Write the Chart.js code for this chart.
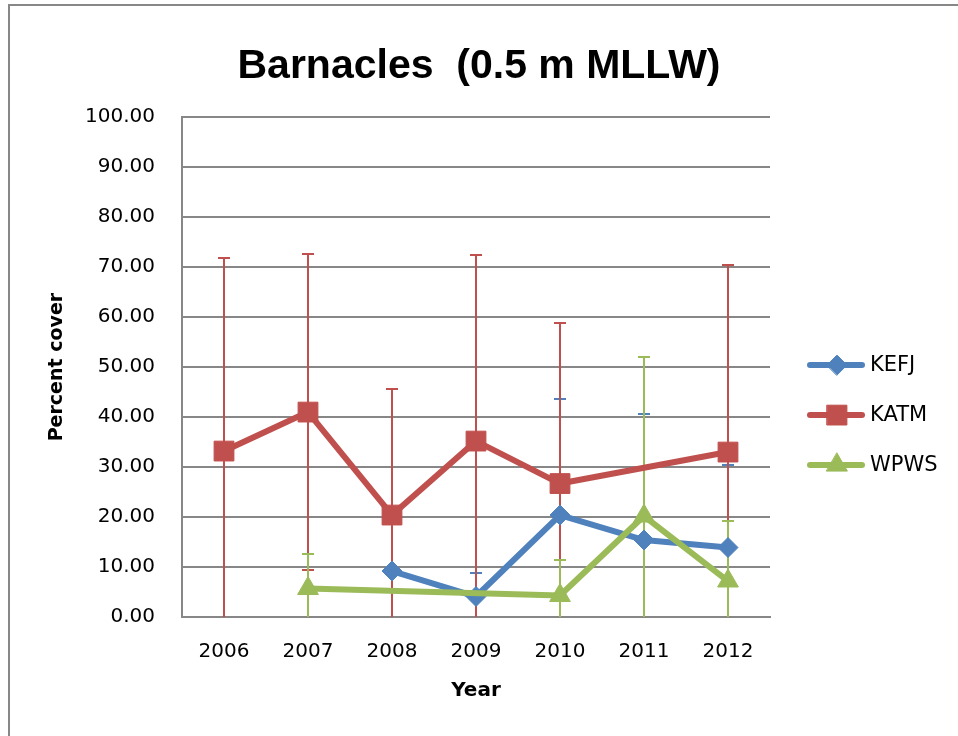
<!DOCTYPE html>
<html>
<head>
<meta charset="utf-8">
<script src="https://cdn.jsdelivr.net/npm/chart.js@4.4.0/dist/chart.umd.min.js"></script>
<style>
  html, body { margin: 0; padding: 0; background: #fff; overflow: hidden; }
  #wrap { position: relative; width: 958px; height: 736px; }
  #frame { position: absolute; left: 8px; top: 4px; width: 1200px; height: 1200px;
           border-left: 2px solid #878787; border-top: 2px solid #878787; }
  #grafico { position: absolute; left: 0; top: 0; }
</style>
</head>
<body>
<div id="wrap">
  <div id="frame"></div>
  <canvas id="grafico" width="958" height="736"></canvas>
</div>
<script>
//anos (eixo x)
var years = ['2006', '2007', '2008', '2009', '2010', '2011', '2012'];

//cobertura media por local
var kefj = [null, null, 9.2, 4.1, 20.4, 15.4, 13.9];
var katm = [33.2, 41.0, 20.4, 35.2, 26.7, null, 33.0];
var wpws = [null, 5.7, null, null, 4.3, 20.2, 7.2];

//barras de erro (+/-)
var kefjErr = [null, null, 0, 4.8, 23.3, 25.3, 16.5];
var katmErr = [38.6, 31.6, 25.3, 37.3, 32.2, null, 37.4];
var wpwsErr = [null, 6.9, null, null, 7.1, 31.9, 12.0];

//rotulos do eixo y
var yTicks = [0, 10, 20, 30, 40, 50, 60, 70, 80, 90, 100];

var azul = '#4F81BD';
var vermelho = '#C0504D';
var verde = '#9BBB59';
var cinza = '#878787';

Chart.defaults.font.family = 'DejaVu Sans';
Chart.defaults.color = '#000';

//desenha as barras de erro atras das linhas
var barrasErro = {
    id: 'barrasErro',
    beforeDatasetsDraw: function (chart) {
        var ctx = chart.ctx;
        var area = chart.chartArea;
        var y = chart.scales.y;
        ctx.save();
        ctx.beginPath();
        ctx.rect(area.left, area.top, area.right - area.left, area.bottom - area.top);
        ctx.clip();
        chart.data.datasets.forEach(function (ds, i) {
            var meta = chart.getDatasetMeta(i);
            ctx.strokeStyle = ds.borderColor;
            ctx.lineWidth = 2;
            ds.erros.forEach(function (e, j) {
                var v = ds.data[j];
                if (v === null || !e) return;
                var x = Math.round(meta.data[j].x);
                var top = Math.round(y.getPixelForValue(v + e));
                var bot = Math.round(y.getPixelForValue(v - e));
                ctx.beginPath();
                ctx.moveTo(x, top);
                ctx.lineTo(x, bot);
                ctx.moveTo(x - 6, top);
                ctx.lineTo(x + 6, top);
                ctx.moveTo(x - 6, bot);
                ctx.lineTo(x + 6, bot);
                ctx.stroke();
            });
        });
        ctx.restore();
    }
};

//legenda com linha e marcador
var legenda = {
    id: 'legenda',
    afterDraw: function (chart) {
        var ctx = chart.ctx;
        var area = chart.chartArea;
        var x0 = area.right + 40;
        var yMid = (area.top + area.bottom) / 2 + 48;
        chart.data.datasets.forEach(function (ds, i) {
            var yy = yMid + (i - 1) * 50;
            ctx.save();
            ctx.strokeStyle = ds.borderColor;
            ctx.lineWidth = 6;
            ctx.lineCap = 'round';
            ctx.beginPath();
            ctx.moveTo(x0, yy);
            ctx.lineTo(x0 + 52, yy);
            ctx.stroke();
            ctx.fillStyle = ds.pointBackgroundColor;
            ctx.strokeStyle = ds.borderColor;
            ctx.lineWidth = 1;
            Chart.helpers.drawPoint(ctx, {
                pointStyle: ds.pointStyle,
                radius: ds.pointRadius,
                rotation: 0,
                borderWidth: 1
            }, x0 + 27, yy);
            ctx.fillStyle = '#000';
            ctx.font = '21px "DejaVu Sans"';
            ctx.textAlign = 'left';
            ctx.textBaseline = 'middle';
            ctx.fillText(ds.label, x0 + 60, yy);
            ctx.restore();
        });
    }
};

function serie(label, dados, erros, cor, estilo, raio, ordem) {
    return {
        label: label,
        data: dados,
        erros: erros,
        borderColor: cor,
        backgroundColor: cor,
        pointBackgroundColor: cor,
        pointBorderColor: cor,
        pointBorderWidth: 1,
        pointStyle: estilo,
        pointRadius: raio,
        pointHoverRadius: raio,
        borderWidth: 6,
        borderCapStyle: 'round',
        borderJoinStyle: 'round',
        tension: 0,
        spanGaps: true,
        order: ordem
    };
}

var data = {
    labels: years,
    datasets: [
        serie('KEFJ', kefj, kefjErr, azul, 'rectRot', 10, 2),
        serie('KATM', katm, katmErr, vermelho, 'rect', 14, 1),
        serie('WPWS', wpws, wpwsErr, verde, 'triangle', 12, 0)
    ]
};

var options = {
    responsive: false,
    animation: false,
    layout: { padding: 0 },
    plugins: {
        legend: { display: false },
        tooltip: { enabled: false },
        title: {
            display: true,
            text: 'Barnacles  (0.5 m MLLW)',
            color: '#000',
            font: { family: 'Liberation Sans', size: 41, weight: 'bold', lineHeight: 1.2 },
            padding: { top: 42, bottom: 26 }
        }
    },
    scales: {
        x: {
            offset: true,
            grid: { display: false, drawTicks: false },
            border: { display: true, color: cinza, width: 2 },
            ticks: { font: { size: 20 }, padding: 23, color: '#000' },
            title: {
                display: true,
                text: 'Year',
                color: '#000',
                font: { size: 20, weight: 'bold', lineHeight: 1.2 },
                padding: { top: 0, bottom: 33 }
            },
            afterFit: function (s) { s.height = 119; }
        },
        y: {
            min: 0,
            max: 100,
            grid: { color: cinza, lineWidth: 2, drawTicks: false },
            border: { display: true, color: cinza, width: 2 },
            afterBuildTicks: function (s) {
                s.ticks = yTicks.map(function (v) { return { value: v }; });
            },
            ticks: {
                font: { size: 20 },
                padding: 27,
                color: '#000',
                callback: function (v) { return v.toFixed(2); }
            },
            title: {
                display: true,
                text: 'Percent cover',
                color: '#000',
                font: { size: 19, weight: 'bold', lineHeight: 1.2 },
                padding: { top: 46, bottom: 0 }
            },
            afterFit: function (s) { s.width = 182; }
        },
        //espaco reservado para a legenda a direita
        espaco: {
            position: 'right',
            display: true,
            grid: { display: false, drawTicks: false },
            border: { display: false },
            ticks: { display: false },
            afterFit: function (s) { s.width = 188; }
        }
    }
};

//criar o grafico de linhas
var ctx = document.querySelector('#grafico').getContext('2d');
var lineChart = new Chart(ctx, {
    type: 'line',
    data: data,
    options: options,
    plugins: [barrasErro, legenda]
});
</script>
</body>
</html>
